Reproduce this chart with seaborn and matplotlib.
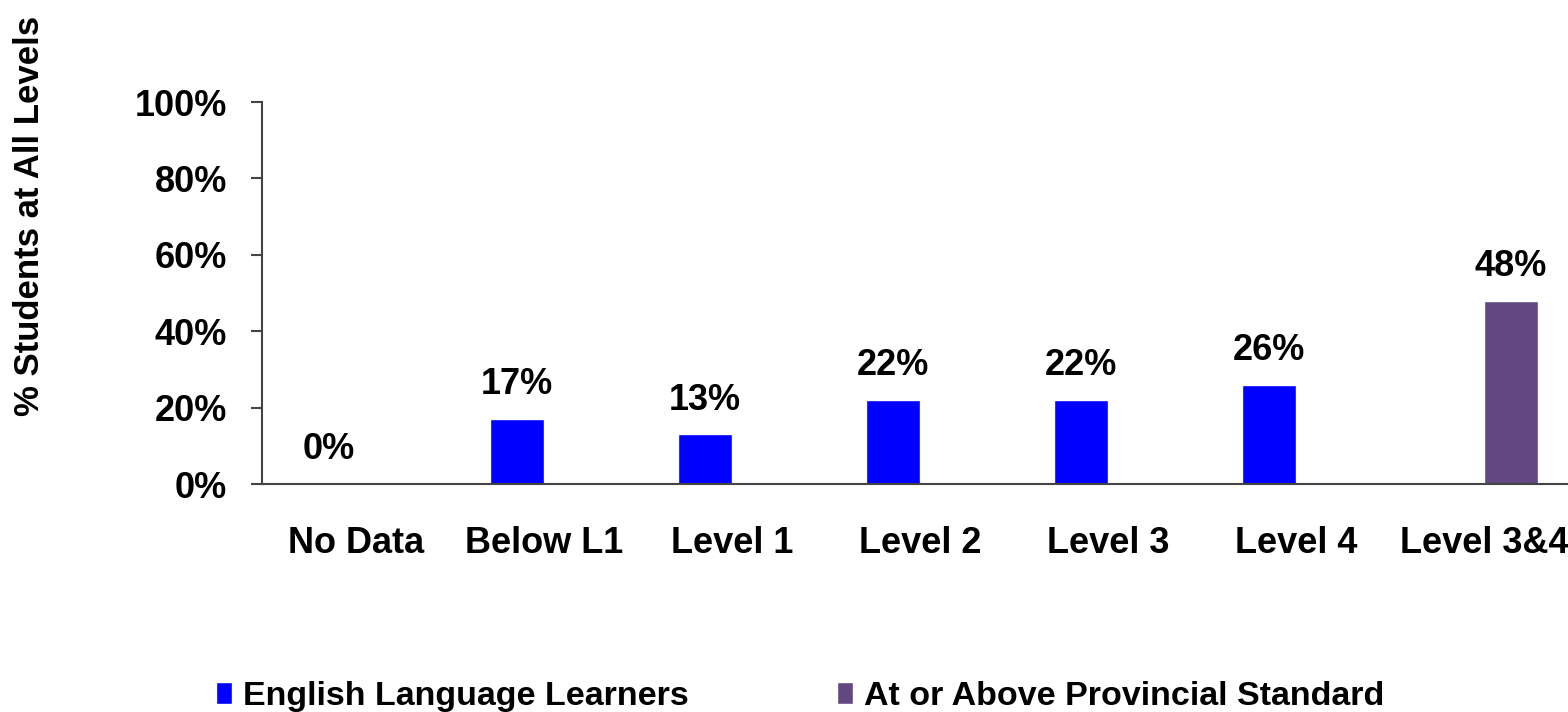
import pandas as pd
import matplotlib
matplotlib.use("Agg")
import matplotlib.pyplot as plt
import seaborn as sns

# data
categories = ["No Data", "Below L1", "Level 1", "Level 2", "Level 3", "Level 4", "Level 3&4"]
ell_values = [0, 17, 13, 22, 22, 26, None]
standard_values = [None, None, None, None, None, None, 48]
series_names = ["English Language Learners", "At or Above Provincial Standard"]
y_ticks = [0, 20, 40, 60, 80, 100]

df = pd.DataFrame({
    "Category": categories * 2,
    "Value": ell_values + standard_values,
    "Series": [series_names[0]] * len(categories) + [series_names[1]] * len(categories),
})

sns.set_style("white")
plt.rcParams["font.family"] = ["Liberation Sans", "DejaVu Sans"]
plt.rcParams["font.weight"] = "bold"
plt.rcParams["text.color"] = "black"
plt.rcParams["axes.labelcolor"] = "black"
plt.rcParams["xtick.color"] = "black"
plt.rcParams["ytick.color"] = "black"

fig = plt.figure(figsize=(15.68, 7.12), dpi=100)
ax = fig.add_axes([262 / 1568, 1 - 484 / 712, 1316 / 1568, 382 / 712])

sns.barplot(data=df, x="Category", y="Value", hue="Series", order=categories,
            hue_order=series_names, palette=["#0000FF", "#634780"], width=0.575,
            saturation=1, ax=ax, legend=True)

for cont in ax.containers:
    labels = ["" if pd.isna(v) else f"{v:.0f}%" for v in cont.datavalues]
    ax.bar_label(cont, labels=labels, padding=12, fontsize=26, fontweight="bold", color="black")

ax.set_xlim(-0.5, len(categories) - 0.5)
ax.set_ylim(0, 100)
ax.set_yticks(y_ticks)
ax.set_yticklabels([f"{t}%" for t in y_ticks], fontsize=26, fontweight="bold")
ax.set_xticks(range(len(categories)))
ax.set_xticklabels(categories, fontsize=26, fontweight="bold")
ax.set_xticks([i - 0.5 for i in range(len(categories) + 1)], minor=True)
ax.tick_params(axis="x", which="major", length=0, pad=30)
ax.tick_params(axis="x", which="minor", length=9, width=1.5, color="#444444", direction="out")
ax.tick_params(axis="y", length=8, width=1.5, color="#444444", pad=17, left=True)

for side in ["top", "right"]:
    ax.spines[side].set_visible(False)
for side in ["left", "bottom"]:
    ax.spines[side].set_color("#444444")
    ax.spines[side].set_linewidth(1.5)

ax.set_xlabel("")
ax.set_ylabel("% Students at All Levels", fontsize=25, fontweight="bold")
ax.yaxis.set_label_coords(-0.164, 0.702)

handles, lbls = ax.get_legend_handles_labels()
leg = ax.legend(handles, lbls, ncol=2, loc="lower left", bbox_to_anchor=(216 / 1568, 0.0),
                bbox_transform=fig.transFigure, frameon=False, borderaxespad=0, borderpad=0,
                prop={"family": "Liberation Sans", "weight": "bold", "size": 24.5},
                handlelength=0.47, handleheight=0.6, handletextpad=0.32, columnspacing=4.35)

plt.savefig("out.png", dpi=100)
